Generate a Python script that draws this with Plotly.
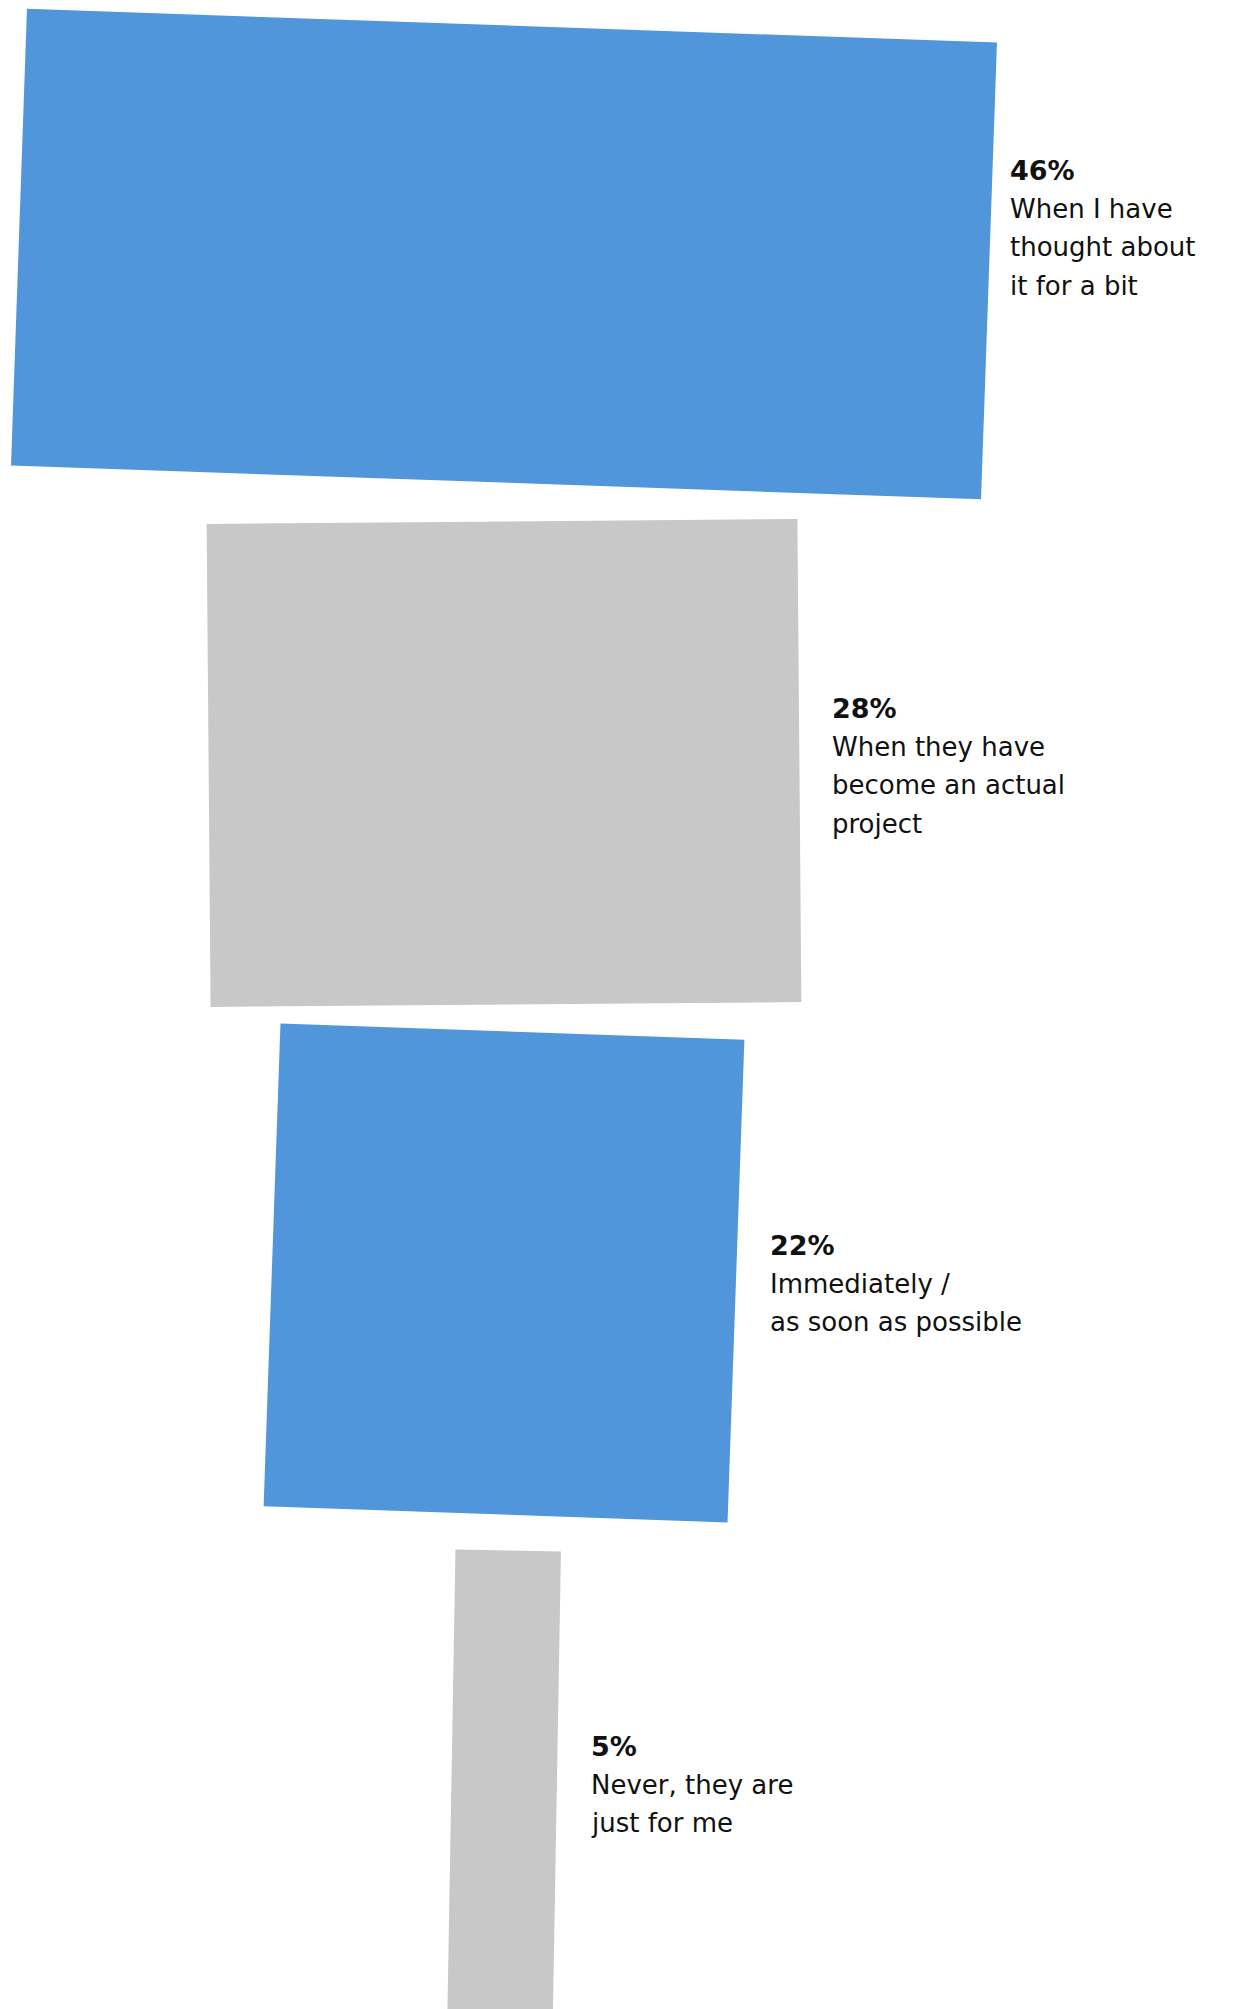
import numpy as np
import plotly.graph_objects as go

# ---------------- data ----------------
categories = [
    "When I have thought about it for a bit",
    "When they have become an actual project",
    "Immediately / as soon as possible",
    "Never, they are just for me",
]
label_lines = [
    ["When I have", "thought about", "it for a bit"],
    ["When they have", "become an actual", "project"],
    ["Immediately /", "as soon as possible"],
    ["Never, they are", "just for me"],
]
values = [46, 28, 22, 5]
pct_labels = ["46%", "28%", "22%", "5%"]

# ---------------- style / layout ----------------
COLORS = ["#5196DB", "#C8C8C8", "#5196DB", "#C8C8C8"]
TILT_DEG = [2.0, -0.47, 2.0, 1.0]
BAR_HEIGHT = [457, 483, 483, 483]
CENTER_Y = [254, 763, 1273, 1792]
CENTER_X = 504
PX_PER_PCT = 21.1
# (left x, y of first description line)
LABEL_POS = [(1008, 209), (830, 747), (768, 1284), (589, 1785)]
PCT_GAP = 38.5
LINE_GAP = 38.4
W, H = 1240, 2009
FONT = "DejaVu Sans"

fig = go.Figure()

for i, v in enumerate(values):
    w = v * PX_PER_PCT
    h = BAR_HEIGHT[i]
    t = np.deg2rad(TILT_DEG[i])
    local = np.array([[-w / 2, -h / 2], [w / 2, -h / 2], [w / 2, h / 2], [-w / 2, h / 2], [-w / 2, -h / 2]])
    xs = CENTER_X + local[:, 0] * np.cos(t) - local[:, 1] * np.sin(t)
    ys = CENTER_Y[i] + local[:, 0] * np.sin(t) + local[:, 1] * np.cos(t)
    fig.add_trace(go.Scatter(
        x=xs, y=ys, mode="lines", fill="toself",
        fillcolor=COLORS[i], line=dict(color=COLORS[i], width=0),
        name=categories[i], hoverinfo="name", showlegend=False,
    ))

annotations = []
for i, pct in enumerate(pct_labels):
    lx, ly = LABEL_POS[i]
    annotations.append(dict(
        x=lx, y=ly - PCT_GAP, xref="x", yref="y", text="<b>" + pct + "</b>",
        showarrow=False, xanchor="left", yanchor="middle",
        font=dict(family=FONT, size=27, color="#111111"),
    ))
    for j, line in enumerate(label_lines[i]):
        annotations.append(dict(
            x=lx, y=ly + j * LINE_GAP, xref="x", yref="y", text=line,
            showarrow=False, xanchor="left", yanchor="middle",
            font=dict(family=FONT, size=26, color="#111111"),
        ))

fig.update_layout(
    width=W, height=H,
    margin=dict(l=0, r=0, t=0, b=0),
    paper_bgcolor="white", plot_bgcolor="white",
    xaxis=dict(range=[0, W], visible=False, fixedrange=True),
    yaxis=dict(range=[H, 0], visible=False, fixedrange=True),
    annotations=annotations,
    showlegend=False,
)

fig.write_html(
    "out.html",
    config={"displayModeBar": False},
    post_script="document.body.style.margin='0';document.body.style.overflow='hidden';",
)
